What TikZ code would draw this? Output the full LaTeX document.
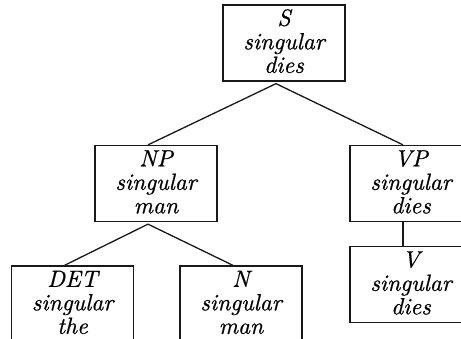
\documentclass[tikz,border=0pt]{standalone}
\usepackage{fontspec}
\newfontfamily\featfont{lmroman10-italic.otf}[FakeBold=0.6]
\begin{document}
\begin{tikzpicture}[x=1pt,y=-1pt,
  box/.style={draw=black!90,line width=1.3pt,minimum width=122pt,minimum height=76pt,inner sep=0pt},
  lbl/.style={anchor=base,inner sep=0pt,font=\featfont\fontsize{23.5}{24}\selectfont},
  edge/.style={draw=black!90,line width=1.3pt}]
\clip (0,0) rectangle (461,338);
% feature boxes: category, number, head word
\newcommand{\featbox}[5]{%
  \node[box] (#1) at (#2) {};
  \node[lbl] (#1-cat) at ([yshift=-21.5pt]#1.north) {#3};
  \node[lbl] (#1-num) at ([yshift=-45pt]#1.north) {#4};
  \node[lbl] (#1-head) at ([yshift=-68.5pt]#1.north) {#5};}
\featbox{S}{284,43}{S}{singular}{dies}
\featbox{NP}{156,183.5}{NP}{singular}{man}
\featbox{VP}{411,183.5}{VP}{singular}{dies}
\featbox{V}{411,284.5}{V}{singular}{dies}
\featbox{DET}{72.5,304}{DET}{singular}{the}
\featbox{N}{241,304}{N}{singular}{man}
% tree branches
\draw[edge] ([xshift=-8pt,yshift=-2pt]S.south) -- ([xshift=-8pt]NP.north);
\draw[edge] ([xshift=-8pt,yshift=-2pt]S.south) -- ([xshift=-8pt]VP.north);
\draw[edge] ([xshift=-8pt,yshift=-2pt]NP.south) -- ([xshift=-8pt]DET.north);
\draw[edge] ([xshift=-8pt,yshift=-2pt]NP.south) -- ([xshift=-8pt]N.north);
\draw[edge] ([xshift=-8pt]VP.south) -- ([xshift=-8pt]V.north);
\end{tikzpicture}
\end{document}
